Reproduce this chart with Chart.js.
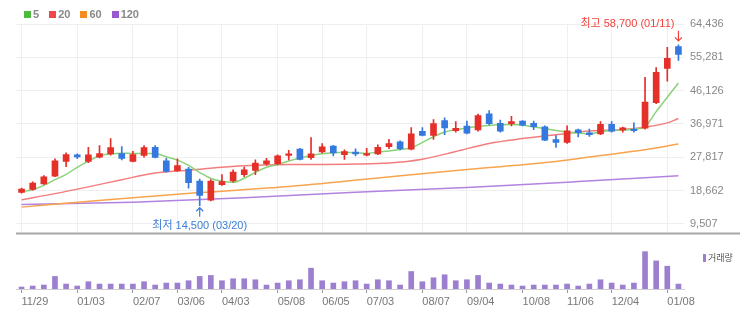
<!DOCTYPE html>
<html>
<head>
<meta charset="utf-8">
<title>주가 차트</title>
<script src="https://cdn.jsdelivr.net/npm/chart.js@4.4.1/dist/chart.umd.min.js"></script>
<style>
  body { margin: 0; background: #fff; }
  #wrap { position: relative; width: 740px; height: 322px; overflow: hidden; font-family: 'Liberation Sans', 'Noto Sans CJK KR', sans-serif; }
  #priceChart { position: absolute; left: 0; top: 0; }
  #volChart { position: absolute; left: 0; top: 246px; }
  #legend { position: absolute; left: 24px; top: 8px; font-size: 11px; font-weight: bold; color: #888; white-space: nowrap; }
  #legend span.item { display: inline-block; margin-right: 10px; }
  #legend span.box { display: inline-block; width: 7px; height: 7px; margin-right: 2px; vertical-align: 0px; }
  #volLabel { position: absolute; left: 703px; top: 251px; font-size: 9px; color: #555; font-family: 'Noto Sans CJK KR', sans-serif; white-space: nowrap; }
  #volLabel span.mark { display: inline-block; width: 3px; height: 8px; background: #9c80cf; margin-right: 2px; vertical-align: -1px; }
</style>
</head>
<body>
<div id="wrap">
  <canvas id="priceChart" width="740" height="246"></canvas>
  <canvas id="volChart" width="740" height="76"></canvas>
  <div id="legend">
    <span class="item"><span class="box" style="background:#4cba3c"></span>5</span><span class="item"><span class="box" style="background:#f0474c"></span>20</span><span class="item"><span class="box" style="background:#f68b1f"></span>60</span><span class="item"><span class="box" style="background:#9b59d0"></span>120</span>
  </div>
  <div id="volLabel"><span class="mark"></span>거래량</div>
</div>
<script>
'use strict';

// ***** DATA *****
const dates = ['11/29', '12/06', '12/13', '12/20', '12/27', '01/03', '01/10', '01/17', '01/24', '01/31',
  '02/07', '02/14', '02/21', '02/28', '03/06', '03/13', '03/20', '03/27', '04/03', '04/10',
  '04/17', '04/24', '05/01', '05/08', '05/15', '05/22', '05/29', '06/05', '06/12', '06/19',
  '06/26', '07/03', '07/10', '07/17', '07/24', '07/31', '08/07', '08/14', '08/21', '08/28',
  '09/04', '09/11', '09/18', '09/25', '10/02', '10/08', '10/16', '10/23', '10/30', '11/06',
  '11/13', '11/20', '11/27', '12/04', '12/11', '12/18', '12/26', '01/02', '01/08', '01/15'];

const opens = [18150, 18950, 20500, 22600, 26650, 28450, 26650, 27850, 28750, 28800,
  26650, 28300, 30550, 26800, 24100, 24600, 21300, 16050, 20250, 21300,
  23050, 24200, 25950, 25950, 28300, 30050, 27700, 29250, 30900, 28550,
  29250, 28400, 28750, 30750, 32050, 30050, 34950, 33800, 37900, 35100,
  36400, 35300, 39750, 37150, 37050, 37750, 37150, 36150, 32650, 31900,
  35350, 34500, 34250, 36850, 35300, 35500, 35800, 42850, 52200, 58200];

const highs = [19350, 21050, 22800, 27400, 29000, 28750, 30550, 31000, 32950, 30750,
  29450, 31000, 31000, 27500, 27400, 25050, 21850, 21700, 23050, 24350,
  25150, 27100, 27500, 28450, 29700, 30250, 33200, 31600, 31100, 29850,
  30150, 30300, 31200, 32750, 32350, 36000, 36000, 38200, 38650, 37600,
  37750, 39700, 40650, 38000, 39050, 37900, 37750, 36450, 33800, 36450,
  35550, 35550, 37600, 37600, 36100, 37300, 49800, 52450, 58050, 58700];

const lows = [17950, 18750, 20350, 22450, 25250, 27400, 26350, 27600, 28400, 27100,
  26550, 27850, 27600, 23750, 23950, 19350, 14500, 15850, 20050, 20950,
  22500, 23050, 25650, 25750, 27100, 27100, 27250, 29000, 28150, 27250,
  28150, 28200, 28550, 30150, 29850, 29850, 33650, 32750, 34000, 34700,
  34250, 34950, 36700, 34700, 36450, 36450, 35400, 32350, 30500, 31600,
  33400, 33550, 34000, 34700, 34700, 34700, 35550, 42550, 48700, 54400];

const closes = [19100, 20700, 22450, 26800, 28550, 27900, 28450, 28800, 30500, 27500,
  28550, 30500, 27750, 23950, 25500, 20850, 17350, 21300, 21100, 23750,
  24350, 26200, 26800, 28200, 28750, 27250, 28750, 30650, 29000, 29350,
  28750, 28800, 30550, 31600, 30150, 34250, 33800, 37050, 35850, 35750,
  34450, 39300, 37050, 34950, 37600, 36600, 36250, 32500, 31900, 35100,
  34600, 34000, 36850, 34950, 35900, 35100, 43000, 51150, 55000, 56100];

// weekly volume (thousand shares)
const volumes = [60, 90, 120, 380, 150, 90, 220, 150, 150, 150,
  150, 220, 120, 180, 180, 250, 380, 410, 250, 310,
  310, 280, 120, 180, 250, 280, 630, 250, 180, 220,
  250, 150, 280, 250, 120, 530, 220, 340, 430, 250,
  280, 410, 180, 150, 120, 90, 120, 120, 120, 150,
  90, 150, 280, 180, 120, 180, 1130, 850, 690, 150];

// moving averages
const ma5 = [18370, 18890, 20070, 21650, 23090, 25060, 26770, 28210, 28740, 28950,
  28820, 28820, 28820, 27950, 27030, 25590, 23620, 21990, 21200, 20940,
  22040, 23670, 25060, 25850, 26770, 27560, 28290, 28790, 29050, 29160,
  29050, 28870, 29260, 29520, 29920, 30440, 31890, 33460, 34770, 35430,
  35820, 36300, 36560, 36720, 36820, 36660, 36140, 35690, 35170, 34770,
  34460, 34250, 34830, 35170, 35300, 35480, 36220, 40360, 44300, 48240];

// [week index, value]
const ma20 = [[0, 16140], [3, 17820], [6, 19680], [9, 21650], [12, 23490], [15, 24270],
  [18, 25060], [21, 25590], [24, 25850], [27, 25850], [30, 25930], [33, 26240],
  [36, 27290], [39, 29390], [42, 31620], [45, 32940], [48, 33990], [51, 35040],
  [54, 35430], [56, 36090], [58, 37270], [59, 38450]];

const ma60 = [[0, 14110], [8, 16210], [16, 18100], [24, 19760], [32, 22120],
  [40, 24460], [48, 26640], [52, 28290], [56, 29870], [59, 31440]];

const ma120 = [[0, 14820], [10, 15480], [20, 16660], [30, 18180], [40, 19500],
  [50, 21120], [59, 22700]];

const priceTicks = [9507, 18662, 27817, 36971, 46126, 55281, 64436];
const dateTicks = ['11/29', '01/03', '02/07', '03/06', '04/03', '05/08', '06/05',
  '07/03', '08/07', '09/04', '10/08', '11/06', '12/04', '01/08'];

const highDate = '01/11';
const lowDate = '03/20';

// ***** STYLE *****
const FONT = "'Liberation Sans', 'Noto Sans CJK KR', sans-serif";
const UP = '#e52f29';
const DOWN = '#3579df';

Chart.defaults.font.family = FONT;

// **** HELPERS ****
function isUp(i) {
  return closes[i] >= opens[i];
}

function candleColor(ctx) {
  return isUp(ctx.dataIndex) ? UP : DOWN;
}

function toPoints(list) {
  return list.map(([i, v]) => ({ x: dates[i], y: v }));
}

function showDate(i) {
  return dateTicks.includes(dates[i]);
}

function drawArrow(ctx, x, yFrom, yTo, color) {
  const dir = yTo > yFrom ? 1 : -1;
  ctx.strokeStyle = color;
  ctx.lineWidth = 1.2;
  ctx.beginPath();
  ctx.moveTo(x, yFrom);
  ctx.lineTo(x, yTo);
  ctx.moveTo(x - 3.5, yTo - dir * 3.5);
  ctx.lineTo(x, yTo);
  ctx.lineTo(x + 3.5, yTo - dir * 3.5);
  ctx.stroke();
}

// **** PLUGINS ****
const hiLoPlugin = {
  id: 'hiLo',
  afterDatasetsDraw(chart) {
    const { ctx, scales: { x, y } } = chart;
    const top = Math.max(...highs);
    const bottom = Math.min(...lows);
    const hi = highs.indexOf(top);
    const lo = lows.indexOf(bottom);

    ctx.save();
    ctx.font = '11px ' + FONT;
    ctx.textBaseline = 'middle';

    const hx = x.getPixelForValue(hi);
    const hy = y.getPixelForValue(top);
    drawArrow(ctx, hx, hy - 14, hy - 4, '#f0423c');
    ctx.fillStyle = '#f0423c';
    ctx.textAlign = 'right';
    ctx.fillText('최고 ' + top.toLocaleString('en-US') + ' (' + highDate + ')', hx - 4, hy - 21);

    const lx = x.getPixelForValue(lo);
    const ly = y.getPixelForValue(bottom);
    drawArrow(ctx, lx, ly + 11, ly + 2, '#3d7fd6');
    ctx.fillStyle = '#3d7fd6';
    ctx.textAlign = 'center';
    ctx.fillText('최저 ' + bottom.toLocaleString('en-US') + ' (' + lowDate + ')', lx, ly + 20);
    ctx.restore();
  }
};

const separatorPlugin = {
  id: 'separator',
  afterDraw(chart) {
    const { ctx, chartArea } = chart;
    ctx.save();
    ctx.strokeStyle = '#a8a8a8';
    ctx.lineWidth = 2;
    ctx.beginPath();
    ctx.moveTo(chartArea.left, chartArea.bottom);
    ctx.lineTo(chart.width, chartArea.bottom);
    ctx.stroke();
    ctx.restore();
  }
};

// **** PRICE CHART ****
const priceCtx = document.getElementById('priceChart').getContext('2d');

new Chart(priceCtx, {
  type: 'bar',
  data: {
    labels: dates,
    datasets: [
      {
        label: 'body',
        data: opens.map((o, i) => [o, closes[i]]),
        backgroundColor: candleColor,
        barThickness: 6,
        grouped: false,
        order: 0
      },
      {
        label: 'wick',
        data: lows.map((l, i) => [l, highs[i]]),
        backgroundColor: candleColor,
        barThickness: 1,
        grouped: false,
        order: 1
      },
      {
        type: 'line',
        label: '5',
        data: ma5,
        borderColor: '#8ad279',
        borderWidth: 1.5,
        pointRadius: 0,
        cubicInterpolationMode: 'monotone',
        order: 2
      },
      {
        type: 'line',
        label: '20',
        data: toPoints(ma20),
        borderColor: '#f27d7d',
        borderWidth: 1.5,
        pointRadius: 0,
        cubicInterpolationMode: 'monotone',
        order: 3
      },
      {
        type: 'line',
        label: '60',
        data: toPoints(ma60),
        borderColor: '#f8a44e',
        borderWidth: 1.5,
        pointRadius: 0,
        cubicInterpolationMode: 'monotone',
        order: 4
      },
      {
        type: 'line',
        label: '120',
        data: toPoints(ma120),
        borderColor: '#b283e0',
        borderWidth: 1.5,
        pointRadius: 0,
        cubicInterpolationMode: 'monotone',
        order: 5
      }
    ]
  },
  options: {
    responsive: false,
    animation: false,
    layout: { padding: { left: 16, top: 24, right: 0, bottom: 2 } },
    plugins: {
      legend: { display: false },
      tooltip: { enabled: false }
    },
    scales: {
      x: {
        offset: true,
        grid: {
          offset: false,
          drawTicks: false,
          color: (c) => (showDate(c.index) ? '#efefef' : 'rgba(0,0,0,0)')
        },
        border: { display: false },
        ticks: { display: false, autoSkip: false },
        afterFit: (s) => { s.height = 0; }
      },
      y: {
        position: 'right',
        min: 6890,
        max: 64436,
        afterBuildTicks: (s) => { s.ticks = priceTicks.map((v) => ({ value: v })); },
        afterFit: (s) => { s.width = 56; },
        grid: { color: '#efefef', drawTicks: false },
        border: { display: false },
        ticks: {
          padding: 6,
          color: '#888',
          font: { size: 11 },
          callback: (v) => v.toLocaleString('en-US')
        }
      }
    }
  },
  plugins: [hiLoPlugin, separatorPlugin]
});

// **** VOLUME CHART ****
const volCtx = document.getElementById('volChart').getContext('2d');

new Chart(volCtx, {
  type: 'bar',
  data: {
    labels: dates,
    datasets: [{
      label: '거래량',
      data: volumes,
      backgroundColor: '#9c80cf',
      barThickness: 5
    }]
  },
  options: {
    responsive: false,
    animation: false,
    layout: { padding: { left: 16, right: 56, top: 4, bottom: 0 } },
    plugins: {
      legend: { display: false },
      tooltip: { enabled: false }
    },
    scales: {
      x: {
        offset: true,
        grid: {
          offset: false,
          drawOnChartArea: false,
          drawTicks: true,
          tickLength: 4,
          color: (c) => (showDate(c.index) ? '#999' : 'rgba(0,0,0,0)')
        },
        border: { color: '#cfcfcf' },
        ticks: {
          autoSkip: false,
          maxRotation: 0,
          align: 'start',
          padding: 2,
          color: '#777',
          font: { size: 11 },
          callback: (v, i) => (showDate(i) ? dates[i] : '')
        },
        afterFit: (s) => { s.height = 33; }
      },
      y: {
        display: false,
        min: 0,
        max: 1180
      }
    }
  }
});
</script>
</body>
</html>
